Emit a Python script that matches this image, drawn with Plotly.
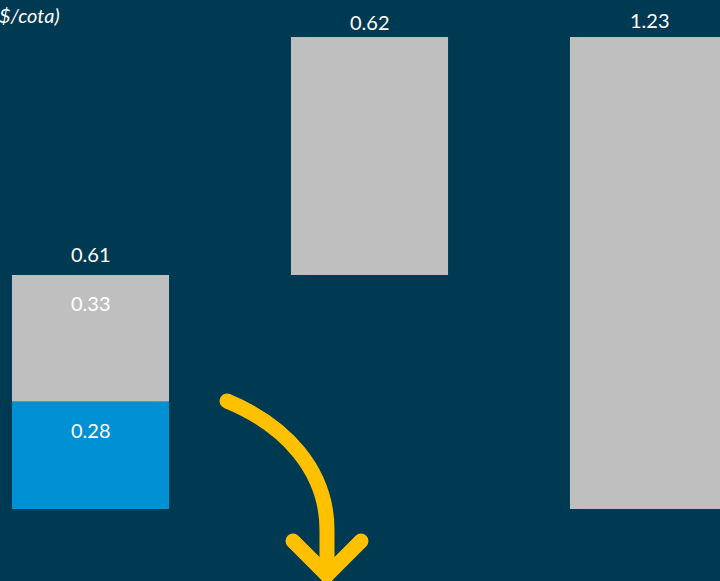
import plotly.graph_objects as go

categories = ["Barra 1", "Barra 2", "Barra 3"]
blue_values = [0.28, 0.0, 0.0]
gray_base = [0.28, 0.61, 0.0]
gray_values = [0.33, 0.62, 1.23]
top_labels = ["0.61", "0.62", "1.23"]
inside_labels = ["0.33", "0.28"]
unit_label = "$/cota)"

BG = "#003A52"
GRAY = "#BFBFBF"
BLUE = "#0090D4"
YELLOW = "#FFC000"
W, H = 720, 581
FONT = "Lato"
FS = 20
label_shifts = [(0, 21), (0, 15), (2, 17)]

xpos = list(range(len(categories)))

fig = go.Figure()
fig.add_trace(go.Bar(x=xpos[:1], y=blue_values[:1], marker=dict(color=BLUE, line=dict(width=0)),
                     width=0.563, hoverinfo="skip"))
fig.add_trace(go.Bar(x=xpos, y=gray_values, base=gray_base,
                     marker=dict(color=GRAY, line=dict(width=0)),
                     width=0.563, hoverinfo="skip"))

tops = [b + v for b, v in zip(gray_base, gray_values)]
for i, (t, lab) in enumerate(zip(tops, top_labels)):
    xs, ys = label_shifts[i]
    fig.add_annotation(x=xpos[i], y=t, text=lab, showarrow=False, yanchor="middle",
                       xshift=xs, yshift=ys, font=dict(family=FONT, size=FS, color="white"))
fig.add_annotation(x=xpos[0], y=tops[0], text=inside_labels[0], showarrow=False,
                   yanchor="middle", yshift=-28, font=dict(family=FONT, size=FS, color="white"))
fig.add_annotation(x=xpos[0], y=blue_values[0], text=inside_labels[1], showarrow=False,
                   yanchor="middle", yshift=-28, font=dict(family=FONT, size=FS, color="white"))

fig.add_annotation(xref="paper", yref="paper", x=0, y=1 - 1 / H, xanchor="left", yanchor="top",
                   text=unit_label, showarrow=False, xshift=-3,
                   font=dict(family=FONT, size=FS, color="white", style="italic"))

def px(x, y):
    return f"{x / W:.5f},{1 - y / H:.5f}"

curve = f"M {px(227,401)} C {px(285,425)} {px(327,470)} {px(327,530)} L {px(327,572)}"
head = f"M {px(293,541)} L {px(327,575)} L {px(361,541)}"
for p in (curve, head):
    fig.add_shape(type="path", xref="paper", yref="paper", path=p,
                  line=dict(color=YELLOW, width=15))
for (cx, cy) in [(227, 401), (293, 541), (361, 541), (327, 575)]:
    r = 7.5
    fig.add_shape(type="circle", xref="paper", yref="paper",
                  x0=(cx - r) / W, x1=(cx + r) / W, y0=1 - (cy + r) / H, y1=1 - (cy - r) / H,
                  fillcolor=YELLOW, line=dict(width=0))

fig.update_layout(
    width=W, height=H, barmode="overlay", showlegend=False,
    paper_bgcolor=BG, plot_bgcolor=BG,
    margin=dict(l=0, r=0, t=0, b=0),
    xaxis=dict(range=[-0.3244, 2.2563], visible=False, fixedrange=True),
    yaxis=dict(range=[-0.1876, 1.3265], visible=False, fixedrange=True),
)
fig.write_html("out.html")
